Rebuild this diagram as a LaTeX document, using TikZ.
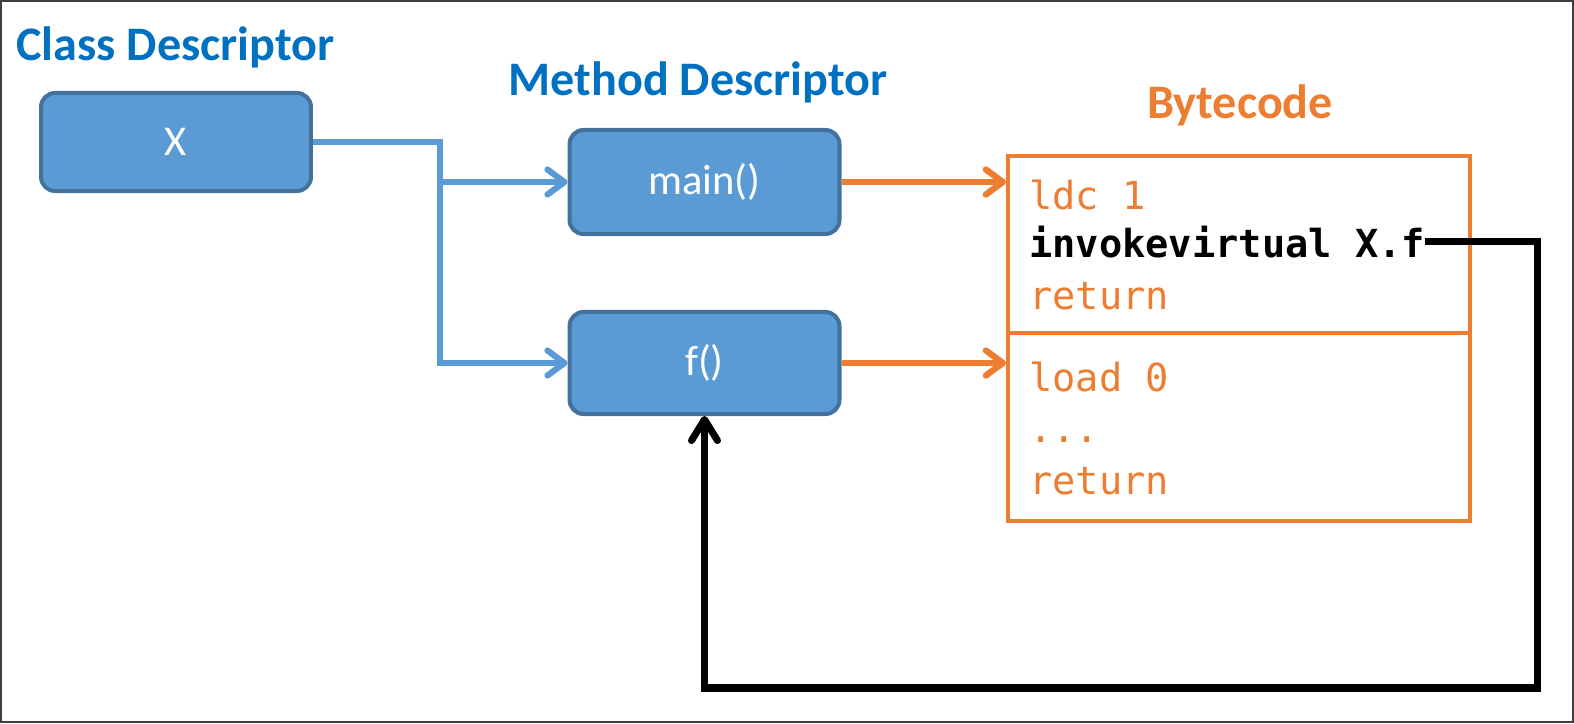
\documentclass[tikz,border=0pt]{standalone}
\usepackage{fontspec}
\setmainfont{Carlito}
\newfontfamily\codefont{DejaVu Sans Mono}
\usepackage{tikz}
\usetikzlibrary{arrows.meta,positioning,calc}
\definecolor{cHead}{HTML}{0070C0}
\definecolor{cFill}{HTML}{5B9BD5}
\definecolor{cEdge}{HTML}{41719C}
\definecolor{cCode}{HTML}{ED7D31}
\definecolor{cFrame}{HTML}{404040}
\tikzset{
  heading/.style={font=\fontsize{27.4}{31}\selectfont\bfseries,text=cHead,inner sep=0pt,anchor=base},
  desc/.style={rounded corners=8pt,draw=cEdge,line width=2.3pt,fill=cFill,text=white,
    font=\fontsize{24.2}{28}\selectfont,minimum width=5.4cm,minimum height=2.08cm},
  codebox/.style={draw=cCode,line width=2.3pt,minimum width=9.24cm},
  code/.style={font=\codefont\fontsize{22}{26}\selectfont,text=cCode,inner sep=0pt,anchor=base west},
  codebold/.style={code,font=\codefont\bfseries\fontsize{22}{26}\selectfont,text=black},
  classarrow/.style={-{Straight Barb[length=3.4mm,width=5mm,round]},line width=3.5pt,cFill},
  codearrow/.style={-{Straight Barb[length=3.4mm,width=5mm,round]},line width=3.6pt,cCode},
  callarrow/.style={-{Straight Barb[length=4.2mm,width=5.2mm,round]},line width=4pt,black},
}
\begin{document}
\begin{tikzpicture}[x=0.02cm,y=-0.02cm]
  \useasboundingbox (0,0) rectangle (1574,723);
  \draw[cFrame,line width=1.1pt] (1,1) rectangle (1573,722);
  % headings
  \node[heading] (classhead) at (175.5,61) {Class Descriptor};
  \node[heading] (methodhead) at (698,95) {Method Descriptor};
  \node[heading,text=cCode] (codehead) at (1240,118) {Bytecode};
  % descriptor boxes
  \node[desc,minimum height=1.96cm] (X) at (176,142) {X};
  \node[desc] (main) at (704.5,182) {main()};
  \node[desc,minimum height=2.04cm] (f) at (704.5,363) {f()};
  % bytecode boxes
  \node[codebox,minimum height=3.53cm] (upper) at (1239,244.3) {};
  \node[codebox,minimum height=3.77cm] (lower) at (1239,426.8) {};
  \node[code] (ldc) at (1029,209) {ldc 1};
  \node[codebold] (invoke) at (1029,257) {invokevirtual X.f};
  \node[code] (ret1) at (1029,309) {return};
  \node[code] (load) at (1029,391) {load 0};
  \node[code] (dots) at (1029,442) {...};
  \node[code] (ret2) at (1029,494) {return};
  % class to methods
  \coordinate (fork) at (440,142);
  \draw[classarrow] (X.east) -- (fork) |- (main.west);
  \draw[classarrow] (fork) |- (f.west);
  % methods to bytecode
  \draw[codearrow] (main.east) -- (main.east -| upper.west);
  \draw[codearrow] (f.east) -- (f.east -| lower.west);
  % call back to f()
  \coordinate (loop) at (1537,688);
  \draw[callarrow] (invoke.east) -| (loop) -| (f.south);
\end{tikzpicture}
\end{document}
